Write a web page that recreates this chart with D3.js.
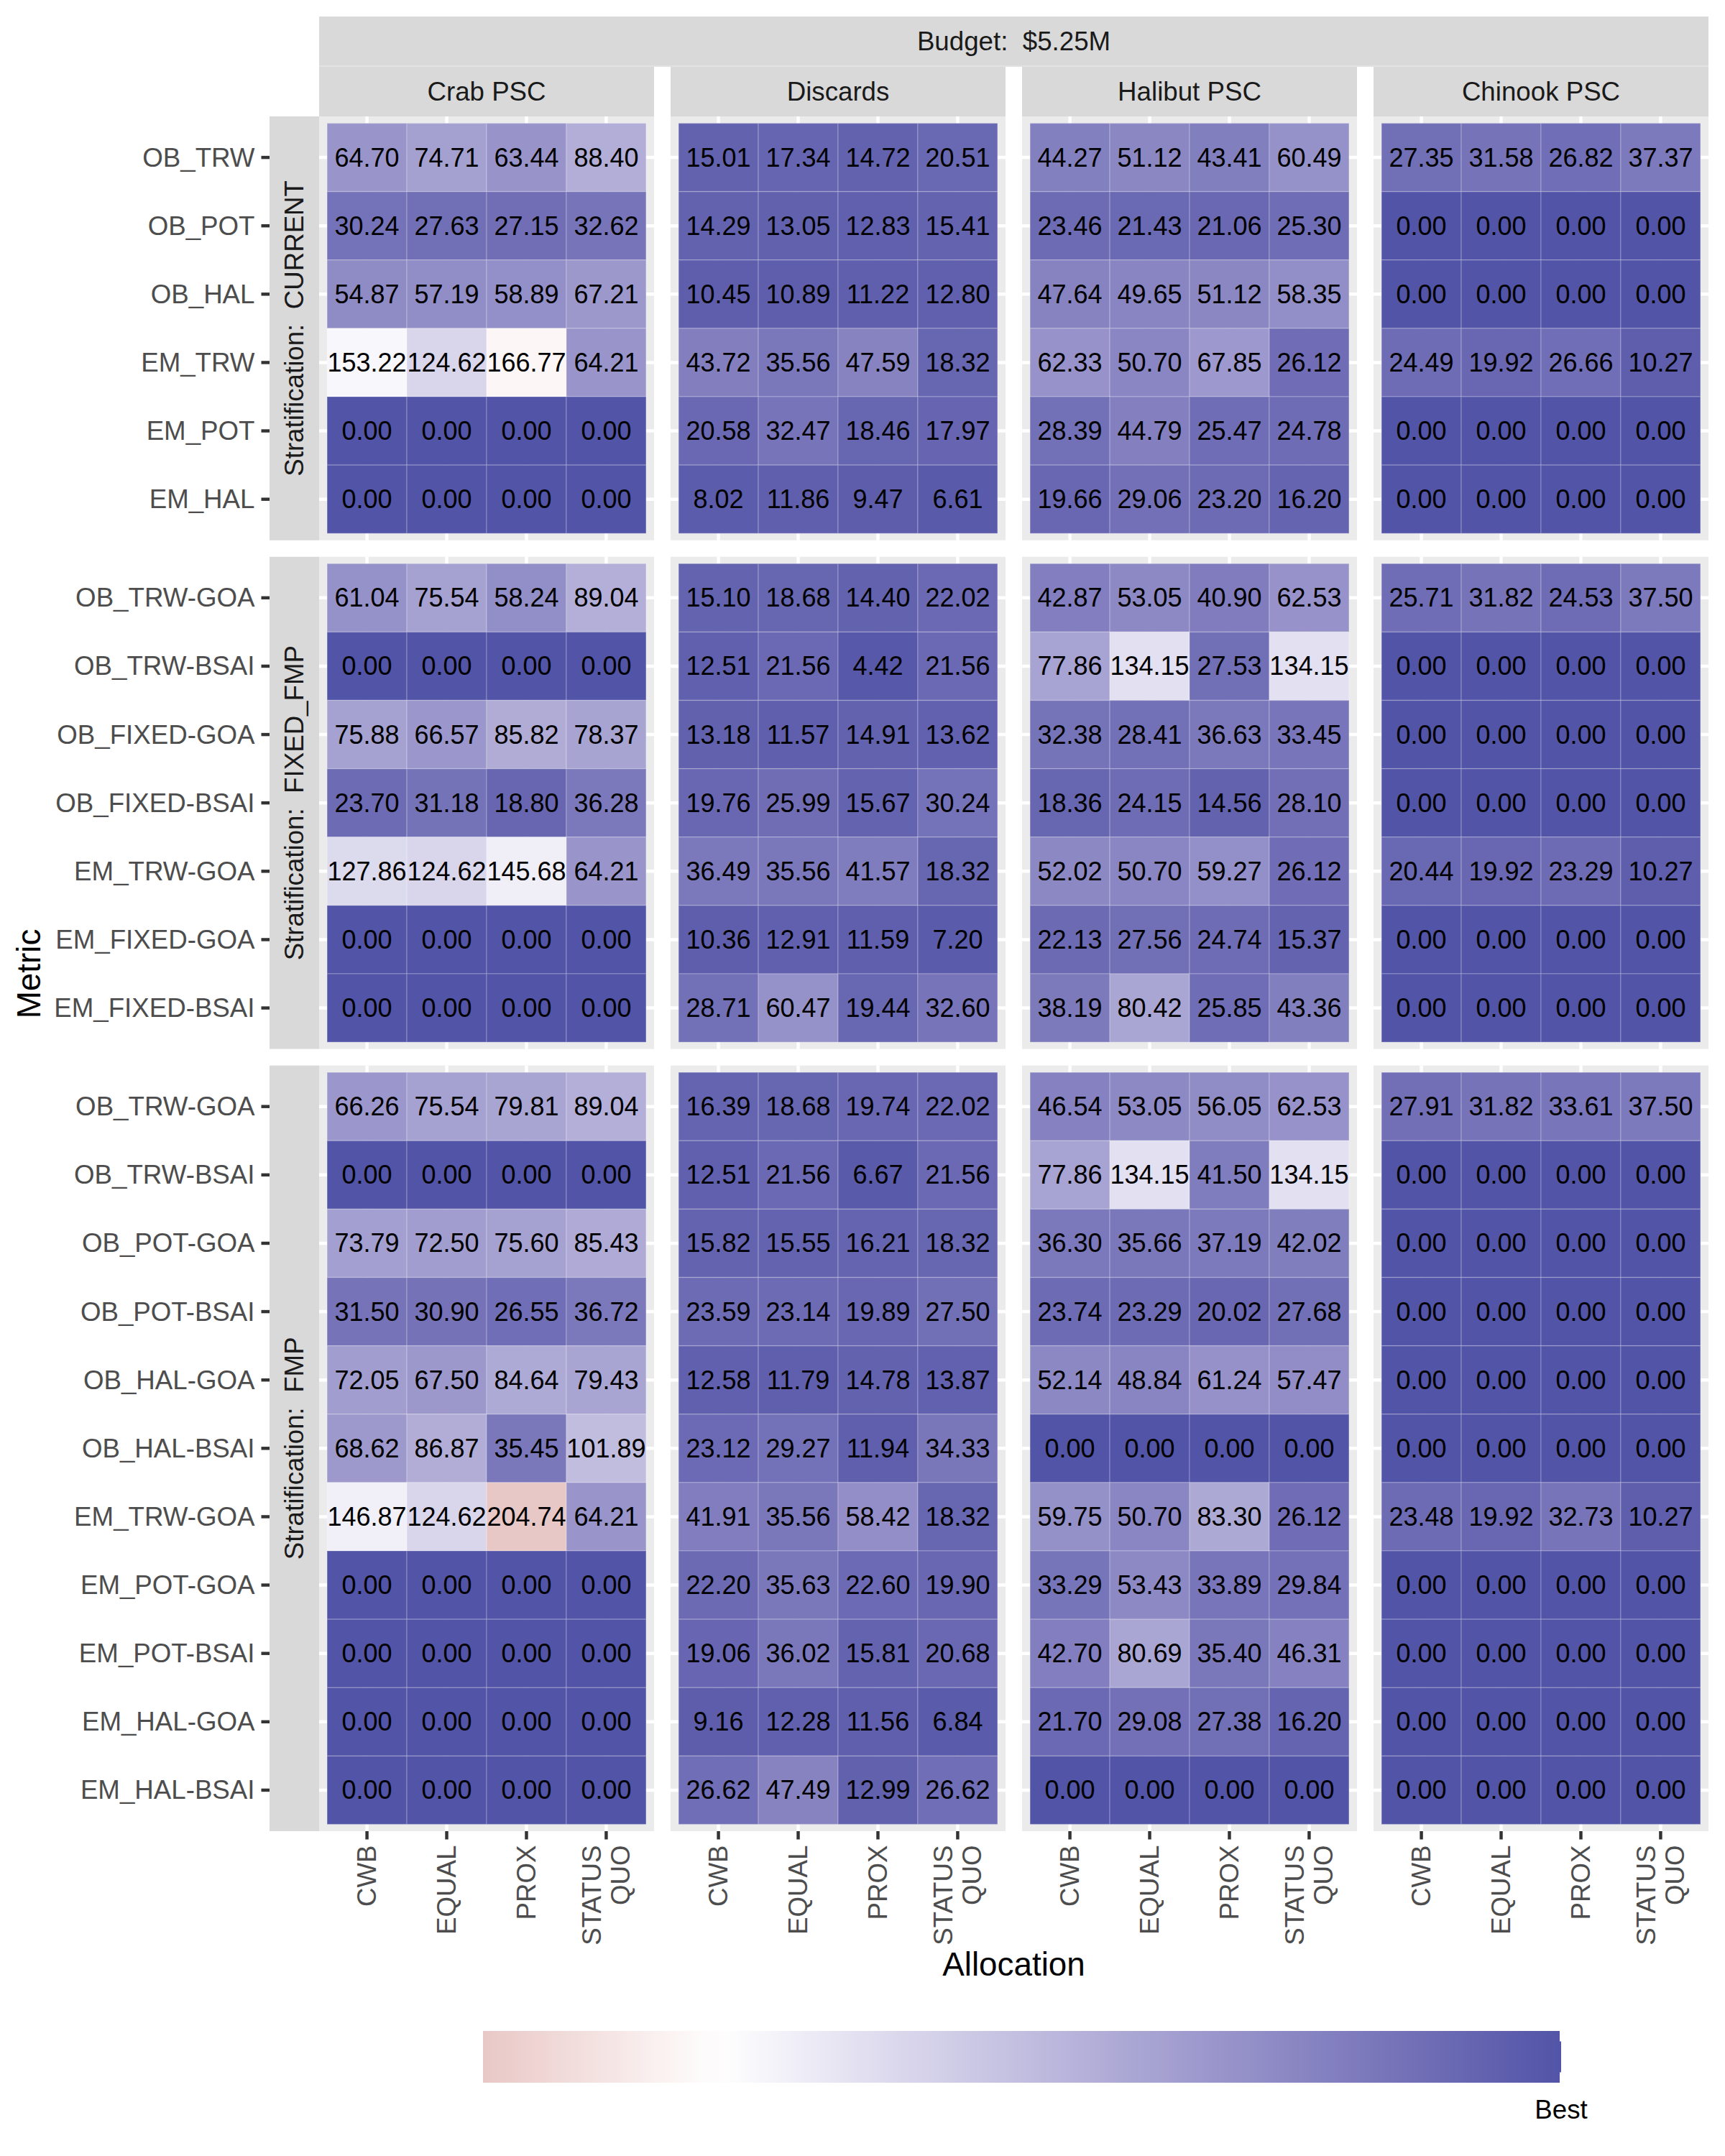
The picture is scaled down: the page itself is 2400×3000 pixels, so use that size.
<!DOCTYPE html>
<html>
<head>
<meta charset="utf-8">
<script src="https://cdnjs.cloudflare.com/ajax/libs/d3/7.8.5/d3.min.js"></script>
<style>
  body { margin: 0; background: #fff; }
  text { font-family: "Liberation Sans", Arial, Helvetica, sans-serif; }
</style>
</head>
<body>
<div id="chart"></div>
<script>
///////////////////////////// data /////////////////////////////
var allocations = ["CWB", "EQUAL", "PROX", "STATUS QUO"];
var species = ["Crab PSC", "Discards", "Halibut PSC", "Chinook PSC"];
var strata = ["CURRENT", "FIXED_FMP", "FMP"];
var budgetLabel = "Budget:  $5.25M";
var legendLabel = "Best";

var metricsCurrent = ["OB_TRW", "OB_POT", "OB_HAL", "EM_TRW", "EM_POT", "EM_HAL"];
var metricsFixedFmp = ["OB_TRW-GOA", "OB_TRW-BSAI", "OB_FIXED-GOA", "OB_FIXED-BSAI",
                       "EM_TRW-GOA", "EM_FIXED-GOA", "EM_FIXED-BSAI"];
var metricsFmp = ["OB_TRW-GOA", "OB_TRW-BSAI", "OB_POT-GOA", "OB_POT-BSAI", "OB_HAL-GOA",
                  "OB_HAL-BSAI", "EM_TRW-GOA", "EM_POT-GOA", "EM_POT-BSAI", "EM_HAL-GOA", "EM_HAL-BSAI"];

// one row per metric, columns in the order of allocations
var currentCrab = [[64.70, 74.71, 63.44, 88.40], [30.24, 27.63, 27.15, 32.62], [54.87, 57.19, 58.89, 67.21],
                   [153.22, 124.62, 166.77, 64.21], [0, 0, 0, 0], [0, 0, 0, 0]];
var currentDiscards = [[15.01, 17.34, 14.72, 20.51], [14.29, 13.05, 12.83, 15.41], [10.45, 10.89, 11.22, 12.80],
                       [43.72, 35.56, 47.59, 18.32], [20.58, 32.47, 18.46, 17.97], [8.02, 11.86, 9.47, 6.61]];
var currentHalibut = [[44.27, 51.12, 43.41, 60.49], [23.46, 21.43, 21.06, 25.30], [47.64, 49.65, 51.12, 58.35],
                      [62.33, 50.70, 67.85, 26.12], [28.39, 44.79, 25.47, 24.78], [19.66, 29.06, 23.20, 16.20]];
var currentChinook = [[27.35, 31.58, 26.82, 37.37], [0, 0, 0, 0], [0, 0, 0, 0],
                      [24.49, 19.92, 26.66, 10.27], [0, 0, 0, 0], [0, 0, 0, 0]];

var fixedFmpCrab = [[61.04, 75.54, 58.24, 89.04], [0, 0, 0, 0], [75.88, 66.57, 85.82, 78.37],
                    [23.70, 31.18, 18.80, 36.28], [127.86, 124.62, 145.68, 64.21], [0, 0, 0, 0], [0, 0, 0, 0]];
var fixedFmpDiscards = [[15.10, 18.68, 14.40, 22.02], [12.51, 21.56, 4.42, 21.56], [13.18, 11.57, 14.91, 13.62],
                        [19.76, 25.99, 15.67, 30.24], [36.49, 35.56, 41.57, 18.32], [10.36, 12.91, 11.59, 7.20],
                        [28.71, 60.47, 19.44, 32.60]];
var fixedFmpHalibut = [[42.87, 53.05, 40.90, 62.53], [77.86, 134.15, 27.53, 134.15], [32.38, 28.41, 36.63, 33.45],
                       [18.36, 24.15, 14.56, 28.10], [52.02, 50.70, 59.27, 26.12], [22.13, 27.56, 24.74, 15.37],
                       [38.19, 80.42, 25.85, 43.36]];
var fixedFmpChinook = [[25.71, 31.82, 24.53, 37.50], [0, 0, 0, 0], [0, 0, 0, 0], [0, 0, 0, 0],
                       [20.44, 19.92, 23.29, 10.27], [0, 0, 0, 0], [0, 0, 0, 0]];

var fmpCrab = [[66.26, 75.54, 79.81, 89.04], [0, 0, 0, 0], [73.79, 72.50, 75.60, 85.43], [31.50, 30.90, 26.55, 36.72],
               [72.05, 67.50, 84.64, 79.43], [68.62, 86.87, 35.45, 101.89], [146.87, 124.62, 204.74, 64.21],
               [0, 0, 0, 0], [0, 0, 0, 0], [0, 0, 0, 0], [0, 0, 0, 0]];
var fmpDiscards = [[16.39, 18.68, 19.74, 22.02], [12.51, 21.56, 6.67, 21.56], [15.82, 15.55, 16.21, 18.32],
                   [23.59, 23.14, 19.89, 27.50], [12.58, 11.79, 14.78, 13.87], [23.12, 29.27, 11.94, 34.33],
                   [41.91, 35.56, 58.42, 18.32], [22.20, 35.63, 22.60, 19.90], [19.06, 36.02, 15.81, 20.68],
                   [9.16, 12.28, 11.56, 6.84], [26.62, 47.49, 12.99, 26.62]];
var fmpHalibut = [[46.54, 53.05, 56.05, 62.53], [77.86, 134.15, 41.50, 134.15], [36.30, 35.66, 37.19, 42.02],
                  [23.74, 23.29, 20.02, 27.68], [52.14, 48.84, 61.24, 57.47], [0, 0, 0, 0],
                  [59.75, 50.70, 83.30, 26.12], [33.29, 53.43, 33.89, 29.84], [42.70, 80.69, 35.40, 46.31],
                  [21.70, 29.08, 27.38, 16.20], [0, 0, 0, 0]];
var fmpChinook = [[27.91, 31.82, 33.61, 37.50], [0, 0, 0, 0], [0, 0, 0, 0], [0, 0, 0, 0], [0, 0, 0, 0], [0, 0, 0, 0],
                  [23.48, 19.92, 32.73, 10.27], [0, 0, 0, 0], [0, 0, 0, 0], [0, 0, 0, 0], [0, 0, 0, 0]];

var strataMetrics = [metricsCurrent, metricsFixedFmp, metricsFmp];
var strataValues = [
  [currentCrab, currentDiscards, currentHalibut, currentChinook],
  [fixedFmpCrab, fixedFmpDiscards, fixedFmpHalibut, fixedFmpChinook],
  [fmpCrab, fmpDiscards, fmpHalibut, fmpChinook]
];

///////////////////////////// layout /////////////////////////////
var width = 2400, height = 3000;
var plotLeft = 444, plotRight = 2377, plotTop = 162, plotBottom = 2548, gap = 23;
var stripW = 69, stripH = 70;
var tickLen = 11.5, lineW = 4.45;
var axisTextSize = 36.7, titleSize = 45.8, cellTextSize = 36;

var panelW = (plotRight - plotLeft - gap * (species.length - 1)) / species.length;
var unit = (plotBottom - plotTop - gap * (strata.length - 1)) /
           d3.sum(strataMetrics, function(m) { return m.length + 0.2; });

var x = d3.scaleBand().domain(allocations).range([0, panelW]).paddingInner(0).paddingOuter(0.1);

var panelX = species.map(function(s, j) { return plotLeft + j * (panelW + gap); });
var panelY = [], panelH = [], yScales = [];
var cur = plotTop;
strataMetrics.forEach(function(m) {
  var h = (m.length + 0.2) * unit;
  panelY.push(cur);
  panelH.push(h);
  yScales.push(d3.scaleBand().domain(m).range([0, h]).paddingInner(0).paddingOuter(0.1));
  cur += h + gap;
});

var allValues = [];
strataValues.forEach(function(sv) { sv.forEach(function(t) { t.forEach(function(r) { allValues = allValues.concat(r); }); }); });
var maxValue = d3.max(allValues);

var color = d3.scaleLinear()
  .domain([0, 160, maxValue])
  .range(["#5254A7", "#ffffff", "#E8C8C6"])
  .interpolate(d3.interpolateLab);

var svg = d3.select("#chart").append("svg")
  .attr("width", width).attr("height", height);
svg.append("rect").attr("width", width).attr("height", height).attr("fill", "#fff");

///////////////////////////// panels /////////////////////////////
strata.forEach(function(st, si) {
  var y = yScales[si];
  species.forEach(function(sp, j) {
    var g = svg.append("g").attr("transform", "translate(" + panelX[j] + "," + panelY[si] + ")");
    g.append("rect").attr("width", panelW).attr("height", panelH[si]).attr("fill", "#EBEBEB");
    g.selectAll("line.gx").data(allocations).enter().append("line")
      .attr("x1", function(a) { return x(a) + x.bandwidth() / 2; })
      .attr("x2", function(a) { return x(a) + x.bandwidth() / 2; })
      .attr("y1", 0).attr("y2", panelH[si])
      .attr("stroke", "#fff").attr("stroke-width", lineW);
    g.selectAll("line.gy").data(strataMetrics[si]).enter().append("line")
      .attr("y1", function(m) { return y(m) + y.bandwidth() / 2; })
      .attr("y2", function(m) { return y(m) + y.bandwidth() / 2; })
      .attr("x1", 0).attr("x2", panelW)
      .attr("stroke", "#fff").attr("stroke-width", lineW);

    var cells = [];
    strataMetrics[si].forEach(function(m, i) {
      allocations.forEach(function(a, k) {
        cells.push({ metric: m, alloc: a, value: strataValues[si][j][i][k] });
      });
    });
    g.selectAll("rect.tile").data(cells).enter().append("rect")
      .attr("class", "tile")
      .attr("x", function(d) { return x(d.alloc); })
      .attr("y", function(d) { return y(d.metric); })
      .attr("width", x.bandwidth())
      .attr("height", y.bandwidth())
      .attr("fill", function(d) { return color(d.value); })
      .attr("stroke", "#fff").attr("stroke-opacity", 0.2).attr("stroke-width", 1.5);
    g.selectAll("text.val").data(cells).enter().append("text")
      .attr("x", function(d) { return x(d.alloc) + x.bandwidth() / 2; })
      .attr("y", function(d) { return y(d.metric) + y.bandwidth() / 2; })
      .attr("text-anchor", "middle")
      .attr("dominant-baseline", "central")
      .attr("font-size", cellTextSize)
      .attr("fill", "#000")
      .text(function(d) { return d.value.toFixed(2); });
  });

  // y axis
  var ya = svg.append("g").attr("transform", "translate(" + (plotLeft - stripW) + "," + panelY[si] + ")");
  ya.selectAll("line").data(strataMetrics[si]).enter().append("line")
    .attr("x1", -tickLen).attr("x2", 0)
    .attr("y1", function(m) { return y(m) + y.bandwidth() / 2; })
    .attr("y2", function(m) { return y(m) + y.bandwidth() / 2; })
    .attr("stroke", "#333333").attr("stroke-width", lineW);
  ya.selectAll("text").data(strataMetrics[si]).enter().append("text")
    .attr("x", -tickLen - 9)
    .attr("y", function(m) { return y(m) + y.bandwidth() / 2; })
    .attr("text-anchor", "end")
    .attr("dominant-baseline", "central")
    .attr("font-size", axisTextSize)
    .attr("fill", "#4D4D4D")
    .text(function(m) { return m; });

  // row strip
  svg.append("rect")
    .attr("x", plotLeft - stripW).attr("y", panelY[si])
    .attr("width", stripW).attr("height", panelH[si])
    .attr("fill", "#D9D9D9");
  var cx = plotLeft - stripW / 2, cy = panelY[si] + panelH[si] / 2;
  svg.append("text")
    .attr("x", cx).attr("y", cy)
    .attr("transform", "rotate(-90," + cx + "," + cy + ")")
    .attr("text-anchor", "middle")
    .attr("dominant-baseline", "central")
    .attr("font-size", axisTextSize)
    .attr("fill", "#1A1A1A")
    .attr("xml:space", "preserve")
    .style("white-space", "pre")
    .text("Stratification:  " + st);
});

///////////////////////////// column strips /////////////////////////////
svg.append("rect")
  .attr("x", plotLeft).attr("y", plotTop - 2 * stripH + 1)
  .attr("width", plotRight - plotLeft).attr("height", stripH - 1)
  .attr("fill", "#D9D9D9");
svg.append("text")
  .attr("x", (plotLeft + plotRight) / 2).attr("y", plotTop - 1.5 * stripH + 0.5)
  .attr("text-anchor", "middle").attr("dominant-baseline", "central")
  .attr("font-size", axisTextSize).attr("fill", "#1A1A1A")
  .style("white-space", "pre")
  .text(budgetLabel);
svg.append("line")
  .attr("x1", plotLeft).attr("x2", plotRight)
  .attr("y1", plotTop - stripH).attr("y2", plotTop - stripH)
  .attr("stroke", "#E2E2E2").attr("stroke-width", 2);

species.forEach(function(sp, j) {
  svg.append("rect")
    .attr("x", panelX[j]).attr("y", plotTop - stripH + 1)
    .attr("width", panelW).attr("height", stripH - 1)
    .attr("fill", "#D9D9D9");
  svg.append("text")
    .attr("x", panelX[j] + panelW / 2).attr("y", plotTop - stripH / 2)
    .attr("text-anchor", "middle").attr("dominant-baseline", "central")
    .attr("font-size", axisTextSize).attr("fill", "#1A1A1A")
    .text(sp);

  // x axis under the bottom row
  var xa = svg.append("g").attr("transform", "translate(" + panelX[j] + "," + plotBottom + ")");
  xa.selectAll("line").data(allocations).enter().append("line")
    .attr("x1", function(a) { return x(a) + x.bandwidth() / 2; })
    .attr("x2", function(a) { return x(a) + x.bandwidth() / 2; })
    .attr("y1", 0).attr("y2", tickLen)
    .attr("stroke", "#333333").attr("stroke-width", lineW);
  xa.selectAll("text").data(allocations).enter().append("text")
    .attr("transform", function(a) {
      return "translate(" + (x(a) + x.bandwidth() / 2) + "," + (tickLen + 8) + ") rotate(-90)";
    })
    .attr("text-anchor", "end")
    .attr("font-size", axisTextSize)
    .attr("fill", "#4D4D4D")
    .each(function(a) {
      var lines = a.split(" ");
      var t = d3.select(this);
      lines.forEach(function(l, li) {
        t.append("tspan")
          .attr("x", 0)
          .attr("y", (li - (lines.length - 1) / 2) * 40)
          .attr("dominant-baseline", "central")
          .text(l);
      });
    });
});

///////////////////////////// axis titles /////////////////////////////
svg.append("text")
  .attr("x", (plotLeft + plotRight) / 2).attr("y", 2733)
  .attr("text-anchor", "middle").attr("dominant-baseline", "central")
  .attr("font-size", titleSize).attr("fill", "#000")
  .text("Allocation");
svg.append("text")
  .attr("transform", "translate(40," + (plotTop + plotBottom) / 2 + ") rotate(-90)")
  .attr("text-anchor", "middle").attr("dominant-baseline", "central")
  .attr("font-size", titleSize).attr("fill", "#000")
  .text("Metric");

///////////////////////////// legend /////////////////////////////
var legX0 = 672, legX1 = 2172, legY = 2826, legH = 72;
var legendScale = d3.scaleLinear().domain([maxValue, 0]).range([legX0, legX1]);
var grad = svg.append("defs").append("linearGradient")
  .attr("id", "legGrad").attr("x1", "0%").attr("x2", "100%").attr("y1", "0%").attr("y2", "0%");
d3.range(0, 41).forEach(function(i) {
  var v = maxValue * (1 - i / 40);
  grad.append("stop").attr("offset", (i / 40 * 100) + "%").attr("stop-color", color(v));
});
svg.append("rect")
  .attr("x", legX0).attr("y", legY)
  .attr("width", legX1 - legX0).attr("height", legH)
  .attr("fill", "url(#legGrad)");
var bx = legendScale(0);
[[legY, legY + legH / 5], [legY + legH * 4 / 5, legY + legH]].forEach(function(p) {
  svg.append("line")
    .attr("x1", bx - 1).attr("x2", bx - 1).attr("y1", p[0]).attr("y2", p[1])
    .attr("stroke", "#fff").attr("stroke-width", 2);
});
svg.append("text")
  .attr("x", bx).attr("y", 2935)
  .attr("text-anchor", "middle").attr("dominant-baseline", "central")
  .attr("font-size", axisTextSize).attr("fill", "#000")
  .text(legendLabel);
</script>
</body>
</html>
